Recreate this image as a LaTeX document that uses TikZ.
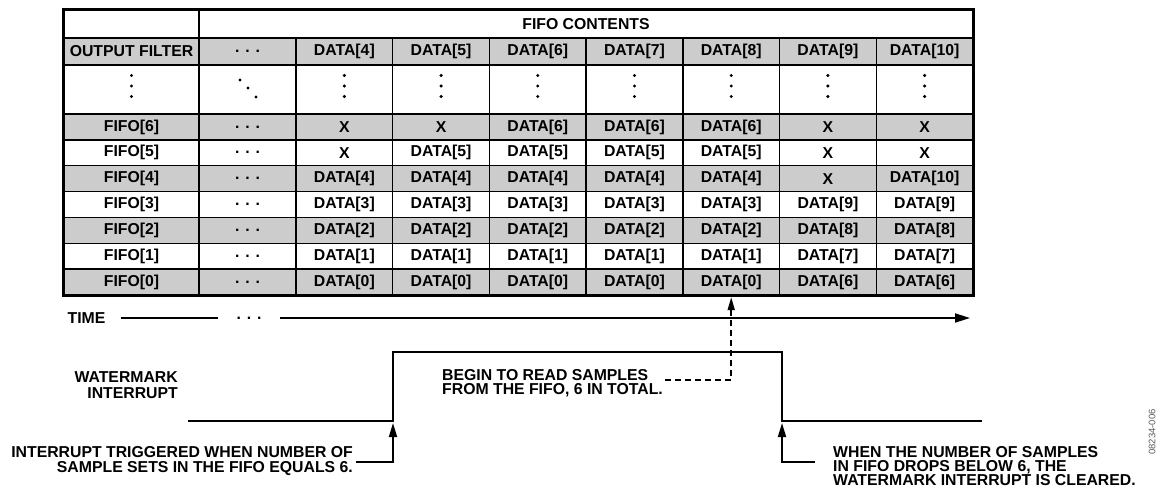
\documentclass[tikz,border=0pt]{standalone}
\usepackage{fontspec}
\setmainfont{Liberation Sans}
\usetikzlibrary{arrows.meta,calc}
\definecolor{cellgray}{RGB}{204,204,204}
\newcommand\fiforow[9]{%
  \pgfmathsetmacro\yc{126.93+25.857*#1}%
  \pgfmathtruncatemacro\lab{6-#1}%
  \node[cellbox, minimum width=135pt, fill=#2] (f#1-0) at (131.5,\yc) {FIFO[\lab]};
  \node[cellbox, minimum width=97pt, fill=#2] (f#1-1) at (247.5,\yc) {. . .};
  \node[cellbox, minimum width=96.71pt, fill=#2] (f#1-2) at (344.36,\yc) {#3};
  \node[cellbox, minimum width=96.71pt, fill=#2] (f#1-3) at (441.07,\yc) {#4};
  \node[cellbox, minimum width=96.71pt, fill=#2] (f#1-4) at (537.78,\yc) {#5};
  \node[cellbox, minimum width=96.71pt, fill=#2] (f#1-5) at (634.50,\yc) {#6};
  \node[cellbox, minimum width=96.71pt, fill=#2] (f#1-6) at (731.21,\yc) {#7};
  \node[cellbox, minimum width=96.71pt, fill=#2] (f#1-7) at (827.92,\yc) {#8};
  \node[cellbox, minimum width=96.71pt, fill=#2] (f#1-8) at (924.64,\yc) {#9};
}
\begin{document}
\begin{tikzpicture}[x=1pt,y=-1pt,
  lbl/.style={font=\fontsize{15.8}{15}\selectfont\bfseries, inner sep=0pt},
  cellbox/.style={draw, line width=1.4pt, inner sep=0pt, lbl, minimum height=25.857pt},
  wave/.style={line width=2.6pt},
  timeline/.style={line width=1.8pt},
  bracket/.style={line width=1.8pt, -{Triangle[length=14pt,width=8pt]}},
  dasharrow/.style={line width=1.8pt, dash pattern=on 6pt off 4pt, -{Triangle[length=13pt,width=7pt]}}
]
\useasboundingbox (0,0) rectangle (1160,493);

% header row
\node[cellbox, minimum width=135pt, minimum height=28pt, fill=white] (hdr0) at (131.5,24) {};
\node[cellbox, minimum width=774pt, minimum height=28pt, fill=white] (hdr1) at (586,24) {FIFO CONTENTS};

% output filter row
\node[cellbox, minimum width=135pt, minimum height=27pt, fill=cellgray] (of0) at (131.5,51.5) {OUTPUT FILTER};
\node[cellbox, minimum width=97pt, minimum height=27pt, fill=cellgray] (of1) at (247.5,51.5) {. . .};
\foreach \k/\v in {2/4,3/5,4/6,5/7,6/8,7/9,8/10}{
  \node[cellbox, minimum width=96.71pt, minimum height=27pt, fill=cellgray] (of\k) at ({344.36+96.71*(\k-2)},51.5) {DATA[\v]};
}

% dots row
\node[cellbox, minimum width=135pt, minimum height=49pt, fill=white] (dt0) at (131.5,89.5) {};
\node[cellbox, minimum width=97pt, minimum height=49pt, fill=white] (dt1) at (247.5,89.5) {};
\foreach \k in {2,...,8}{
  \node[cellbox, minimum width=96.71pt, minimum height=49pt, fill=white] (dt\k) at ({344.36+96.71*(\k-2)},89.5) {};
}
\foreach \k in {0,2,3,4,5,6,7,8}{
  \foreach \dy in {-14,-3.5,7}{
    \fill ($(dt\k.center)+(0,\dy)$) circle (1.7pt);
  }
}
\fill ($(dt1.center)+(-7.5,-9.5)$) circle (1.7pt);
\fill ($(dt1.center)+(0.5,-1.5)$) circle (1.7pt);
\fill ($(dt1.center)+(8.5,7.5)$) circle (1.7pt);

% FIFO rows
\fiforow{0}{cellgray}{X}{X}{DATA[6]}{DATA[6]}{DATA[6]}{X}{X}
\fiforow{1}{white}{X}{DATA[5]}{DATA[5]}{DATA[5]}{DATA[5]}{X}{X}
\fiforow{2}{cellgray}{DATA[4]}{DATA[4]}{DATA[4]}{DATA[4]}{DATA[4]}{X}{DATA[10]}
\fiforow{3}{white}{DATA[3]}{DATA[3]}{DATA[3]}{DATA[3]}{DATA[3]}{DATA[9]}{DATA[9]}
\fiforow{4}{cellgray}{DATA[2]}{DATA[2]}{DATA[2]}{DATA[2]}{DATA[2]}{DATA[8]}{DATA[8]}
\fiforow{5}{white}{DATA[1]}{DATA[1]}{DATA[1]}{DATA[1]}{DATA[1]}{DATA[7]}{DATA[7]}
\fiforow{6}{cellgray}{DATA[0]}{DATA[0]}{DATA[0]}{DATA[0]}{DATA[0]}{DATA[6]}{DATA[6]}

% outer border
\draw[line width=2.2pt] (hdr0.north west) rectangle (f6-8.south east);

% time axis
\node[lbl] (time) at (86.5,318) {TIME};
\node[lbl] (tdots) at (249,318) {. . .};
\coordinate (tend) at (970,318);
\draw[timeline] ([xshift=15pt]time.east) -- ([xshift=-18pt]tdots.west);
\draw[timeline, -{Triangle[length=15pt,width=9pt]}] ([xshift=18pt]tdots.east) -- (tend);

% waveform
\node[lbl, align=right, anchor=east, font=\fontsize{15.8}{16}\selectfont\bfseries] (wm) at (178,385.5) {WATERMARK\\INTERRUPT};
\coordinate (w0) at (188,421);
\coordinate (w1) at (393,421);
\coordinate (w2) at (393,352);
\coordinate (w3) at (782,352);
\coordinate (w4) at (782,421);
\coordinate (w5) at (982,421);
\draw[wave, line join=miter] (w0) -- (w1) -- (w2) -- (w3) -- (w4) -- (w5);

% begin reading annotation
\node[lbl, align=left, anchor=west, font=\fontsize{15.8}{14.5}\selectfont\bfseries] (begin) at (442,383) {BEGIN TO READ SAMPLES\\FROM THE FIFO, 6 IN TOTAL.};
\coordinate (d1) at (665,380);
\draw[dasharrow] (d1) -| ([yshift=-1.5pt]f6-6.south);

% interrupt triggered annotation
\node[lbl, align=right, anchor=east, font=\fontsize{15.8}{15.5}\selectfont\bfseries] (trig) at (353,461) {INTERRUPT TRIGGERED WHEN NUMBER OF\\SAMPLE SETS IN THE FIFO EQUALS 6.};
\coordinate (b1) at (356,462);
\draw[bracket] (b1) -| ([yshift=-2pt]w1);

% interrupt cleared annotation
\node[lbl, align=left, anchor=west, font=\fontsize{15.8}{14}\selectfont\bfseries] (clr) at (833,466) {WHEN THE NUMBER OF SAMPLES\\IN FIFO DROPS BELOW 6, THE\\WATERMARK INTERRUPT IS CLEARED.};
\coordinate (b2) at (815,462);
\draw[bracket] (b2) -| ([yshift=-2pt]w4);

% figure id
\node[rotate=90, inner sep=0pt, font=\fontsize{9.5}{9.5}\selectfont, text=gray!70!black] (figid) at (1152,432) {08234-006};
\end{tikzpicture}
\end{document}
